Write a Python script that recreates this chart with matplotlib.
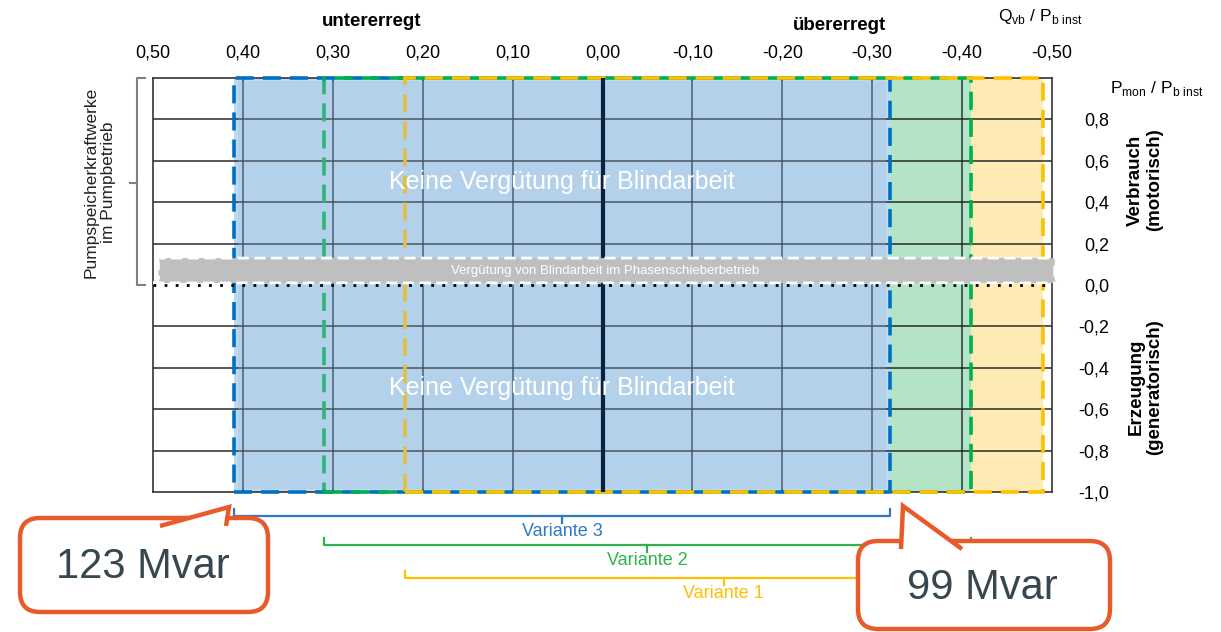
import numpy as np
import matplotlib
matplotlib.use("Agg")
import matplotlib.pyplot as plt
from matplotlib.patches import Rectangle, FancyBboxPatch, Polygon
from matplotlib.transforms import blended_transform_factory

plt.rcParams['font.family'] = ['Liberation Sans', 'DejaVu Sans']
plt.rcParams['mathtext.fontset'] = 'custom'
plt.rcParams['mathtext.rm'] = 'Liberation Sans'

# Daten
q_ticks = [0.5, 0.4, 0.3, 0.2, 0.1, 0.0, -0.1, -0.2, -0.3, -0.4, -0.5]
p_ticks = [0.8, 0.6, 0.4, 0.2, 0.0, -0.2, -0.4, -0.6, -0.8, -1.0]
varianten = ['Variante 3', 'Variante 2', 'Variante 1']
q_links = [0.41, 0.31, 0.22]      # untererregte Grenze je Variante
q_rechts = [-0.32, -0.41, -0.49]  # übererregte Grenze je Variante
farben = ['#0070C0', '#00B050', '#FFC000']
fuellung = ['#BDDAF3', '#B3E4C6', '#FDEAB5']
text_farben = ['#2E7BC4', '#2DB350', '#FFC000']
band_p = (0.01, 0.13)             # Phasenschieberbetrieb
callouts = ['123 Mvar', '99 Mvar']


def komma(v, n):
    s = f"{v:.{n}f}"
    if s.startswith('-') and float(s) == 0:
        s = s[1:]
    return s.replace('.', ',')


fig = plt.figure(figsize=(12.21, 6.32), dpi=100)
ax = fig.add_axes([153 / 1221, 1 - 492 / 632, 899 / 1221, 414 / 632])
ax.set_xlim(0.5, -0.5)
ax.set_ylim(-1, 1)

# Flächen der Varianten
ax.axvspan(q_links[0], q_rechts[0], color=fuellung[0], zorder=1, lw=0)
ax.axvspan(q_rechts[0], q_rechts[1], color=fuellung[1], zorder=1, lw=0)
ax.axvspan(q_rechts[1], q_rechts[2], color=fuellung[2], zorder=1, lw=0)

# Gitter
for q in q_ticks[1:-1]:
    if q == 0:
        ax.axvline(q, color='#0B2140', lw=3, zorder=4.6)
    else:
        ax.axvline(q, color='#1a2a3a', lw=1.2, alpha=0.85, zorder=2)
for p in p_ticks[:-1]:
    if p != 0:
        ax.axhline(p, color='#1a1a1a', lw=1.2, alpha=0.85, zorder=2)
for s in ax.spines.values():
    s.set_color('#333333')
    s.set_linewidth(1.2)

# gestrichelte Rahmen der Varianten
for ql, qr, c in zip(q_links, q_rechts, farben):
    ax.add_patch(Rectangle((ql, -1), qr - ql, 2, fill=False, ec=c, lw=2.6,
                           ls=(0, (5, 2.5)), zorder=4, clip_on=False))
# leichte blaue Lasur über den inneren Linien
ax.add_patch(Rectangle((q_links[0] - 0.005, -0.985), q_rechts[0] - q_links[0] + 0.01, 1.97,
                       fc='#9FBFD6', alpha=0.3, lw=0, zorder=4.5))

# Phasenschieberbetrieb-Band
band = FancyBboxPatch((0.494, band_p[0]), -0.997, band_p[1] - band_p[0],
                      boxstyle='round,pad=0,rounding_size=0.006',
                      mutation_aspect=4, fc='#BFBFBF', ec='white', lw=2,
                      ls=(0, (4, 2)), zorder=5, clip_on=False)
ax.add_patch(band)
ax.axhline(0, color='black', lw=2, ls=(0, (1, 3)), zorder=6)
ax.text(-0.003, 0.07, 'Vergütung von Blindarbeit im Phasenschieberbetrieb',
        color='white', fontsize=9.5, ha='center', va='center', zorder=7)

for y in (0.5, -0.5):
    ax.text(0.045, y, 'Keine Vergütung für Blindarbeit', color='white',
            fontsize=18, ha='center', va='center', zorder=7)

# Achsen
ax.xaxis.tick_top()
ax.set_xticks(q_ticks)
ax.set_xticklabels([komma(v, 2) for v in q_ticks], fontsize=13)
ax.tick_params(axis='x', length=0, pad=12)
ax.yaxis.tick_right()
ax.set_yticks(p_ticks)
ax.set_yticklabels([komma(v, 1) for v in p_ticks], fontsize=13, ha='right')
ax.tick_params(axis='y', length=0, pad=41)

# Klammern unter der Achse
tr = blended_transform_factory(ax.transData, ax.transAxes)
klammer_y = [-0.058, -0.128, -0.208]
for name, ql, qr, c, tc, y in zip(varianten, q_links, q_rechts, farben, text_farben, klammer_y):
    ax.plot([ql, ql, qr, qr], [y + 0.018, y, y, y + 0.018], color=tc, lw=1.6,
            transform=tr, clip_on=False, zorder=2)
    m = (ql + qr) / 2
    ax.plot([m, m], [y, y - 0.017], color=tc, lw=1.6, transform=tr, clip_on=False)
    ax.text(m, y - 0.038, name, color=tc, fontsize=13, ha='center', va='center',
            transform=tr)

# Overlay in Pixelkoordinaten
ov = fig.add_axes([0, 0, 1, 1], zorder=10)
ov.set_xlim(0, 1221)
ov.set_ylim(632, 0)
ov.axis('off')
ov.patch.set_alpha(0)

ov.text(372, 21, 'untererregt', fontsize=13.5, fontweight='bold', ha='center', va='center')
ov.text(840, 26, 'übererregt', fontsize=13.5, fontweight='bold', ha='center', va='center')
ov.text(1040, 17, r'Q$_{\mathrm{vb}}$ / P$_{\mathrm{b\ inst}}$', fontsize=12.5,
        ha='center', va='center')
ov.text(1157, 88, r'P$_{\mathrm{mon}}$ / P$_{\mathrm{b\ inst}}$', fontsize=12.5,
        ha='center', va='center')
ov.text(1145, 180, 'Verbrauch\n(motorisch)', fontsize=13.5, fontweight='bold',
        rotation=90, ha='center', va='center', linespacing=1.1)
ov.text(1145, 387, 'Erzeugung\n(generatorisch)', fontsize=13.5, fontweight='bold',
        rotation=90, ha='center', va='center', linespacing=1.1)

# linke Klammer
ov.plot([145, 137, 137, 145], [78, 78, 285, 285], color='#808080', lw=1.5)
ov.plot([130, 137], [183, 183], color='#808080', lw=1.5)
ov.text(100, 182, 'Pumpspeicherkraftwerke\nim Pumpbetrieb', fontsize=12.5,
        rotation=90, ha='center', va='center', color='#222222', linespacing=1.15)

# Sprechblasen
orange = '#E85A2A'
boxen = [(20, 518, 248, 94), (858, 541, 252, 88)]
spitzen = [[(160, 526), (229, 507), (226, 526)],
           [(901, 549), (903, 506), (962, 549)]]
mitten = [(143, 567), (982, 588)]
for (x, y, w, h), sp, (tx, ty), txt in zip(boxen, spitzen, mitten, callouts):
    ov.add_patch(FancyBboxPatch((x, y), w, h, boxstyle='round,pad=0,rounding_size=20',
                                fc='white', ec=orange, lw=3.2, zorder=1))
    ov.add_patch(Polygon(sp, closed=False, fc='white', ec=orange, lw=3.2,
                         joinstyle='miter', zorder=2))
    ov.text(tx, ty, txt, fontsize=30, color='#37474F', ha='center', va='center', zorder=3)

fig.savefig('out.png', dpi=100)
